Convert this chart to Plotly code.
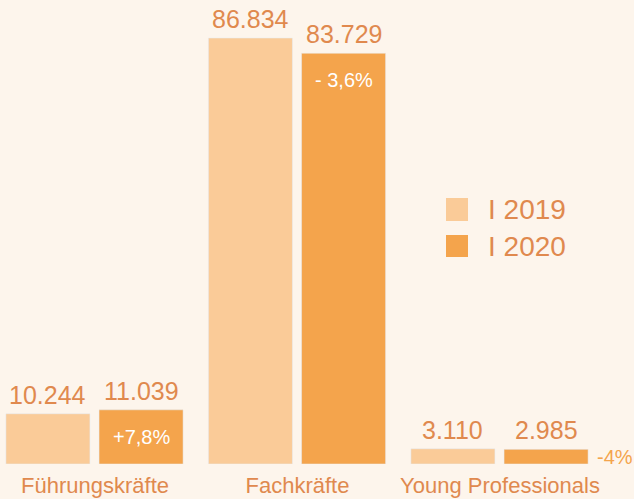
import plotly.graph_objects as go

categories = ["Führungskräfte", "Fachkräfte", "Young Professionals"]
series_names = ["I 2019", "I 2020"]
values_2019 = [10244, 86834, 3110]
values_2020 = [11039, 83729, 2985]
value_labels_2019 = ["10.244", "86.834", "3.110"]
value_labels_2020 = ["11.039", "83.729", "2.985"]
change_labels = ["+7,8%", "- 3,6%", "-4%"]

BG = "#FDF5EC"
C19 = "#FACB98"
C20 = "#F4A44C"
TXT = "#E0894E"
FONT = "Liberation Sans, Arial, sans-serif"

W, H = 634, 499
MB = 35
PH = H - MB  # plot height in px

xpos = [0, 1, 2]
BW = 0.415
OFF19 = -0.44
OFF20 = 0.02

fig = go.Figure()
fig.add_trace(go.Bar(x=xpos, y=values_2019, name=series_names[0], marker_color=C19,
                     width=BW, offset=OFF19, showlegend=False))
fig.add_trace(go.Bar(x=xpos, y=values_2020, name=series_names[1], marker_color=C20,
                     width=BW, offset=OFF20, showlegend=False))

ann = []
for i in range(3):
    ann.append(dict(x=xpos[i] + OFF19 + BW / 2, y=values_2019[i], text=value_labels_2019[i],
                    xref="x", yref="y", showarrow=False, yanchor="bottom", yshift=3,
                    font=dict(size=25, color=TXT, family=FONT)))
    ann.append(dict(x=xpos[i] + OFF20 + BW / 2, y=values_2020[i], text=value_labels_2020[i],
                    xref="x", yref="y", showarrow=False, yanchor="bottom", yshift=3,
                    font=dict(size=25, color=TXT, family=FONT)))
# change labels
for i in range(2):
    ann.append(dict(x=xpos[i] + OFF20 + BW / 2, y=values_2020[i], text=change_labels[i],
                    xref="x", yref="y", showarrow=False, yanchor="middle", yshift=-27,
                    font=dict(size=20, color="white", family=FONT)))
ann.append(dict(x=xpos[2] + OFF20 + BW, y=values_2020[2] / 2, text=change_labels[2],
                xref="x", yref="y", showarrow=False, xanchor="left", yanchor="middle", xshift=7,
                font=dict(size=20, color=C20, family=FONT)))

# legend (manual)
shapes = []
legend_rows = [(198, 221, C19, series_names[0]), (235, 257, C20, series_names[1])]
for top, bot, col, name in legend_rows:
    shapes.append(dict(type="rect", xref="paper", yref="paper",
                       x0=446 / W, x1=468 / W, y0=1 - bot / PH, y1=1 - top / PH,
                       fillcolor=col, line=dict(width=0)))
    ann.append(dict(x=486 / W, y=1 - ((top + bot) / 2) / PH, xref="paper", yref="paper",
                    text=name, showarrow=False, xanchor="left", yanchor="middle",
                    font=dict(size=28, color=TXT, family=FONT)))

scale = 202.5
fig.update_layout(
    width=W, height=H,
    margin=dict(l=0, r=0, t=0, b=MB, pad=0),
    paper_bgcolor=BG, plot_bgcolor=BG,
    barmode="group",
    hovermode=False,
    xaxis=dict(range=[-95 / scale, (W - 95) / scale], tickvals=xpos, ticktext=categories,
               showgrid=False, zeroline=False, showline=False, ticks="",
               ticklabelstandoff=6,
               tickfont=dict(size=22, color=TXT, family=FONT), automargin=False),
    yaxis=dict(range=[0, PH / (426 / 86834)], visible=False, showgrid=False, zeroline=False),
    annotations=ann,
    shapes=shapes,
)

fig.write_html("out.html", config={"displayModeBar": False},
               post_script="document.body.style.margin='0';document.body.style.overflow='hidden';document.body.style.background='" + BG + "';")
